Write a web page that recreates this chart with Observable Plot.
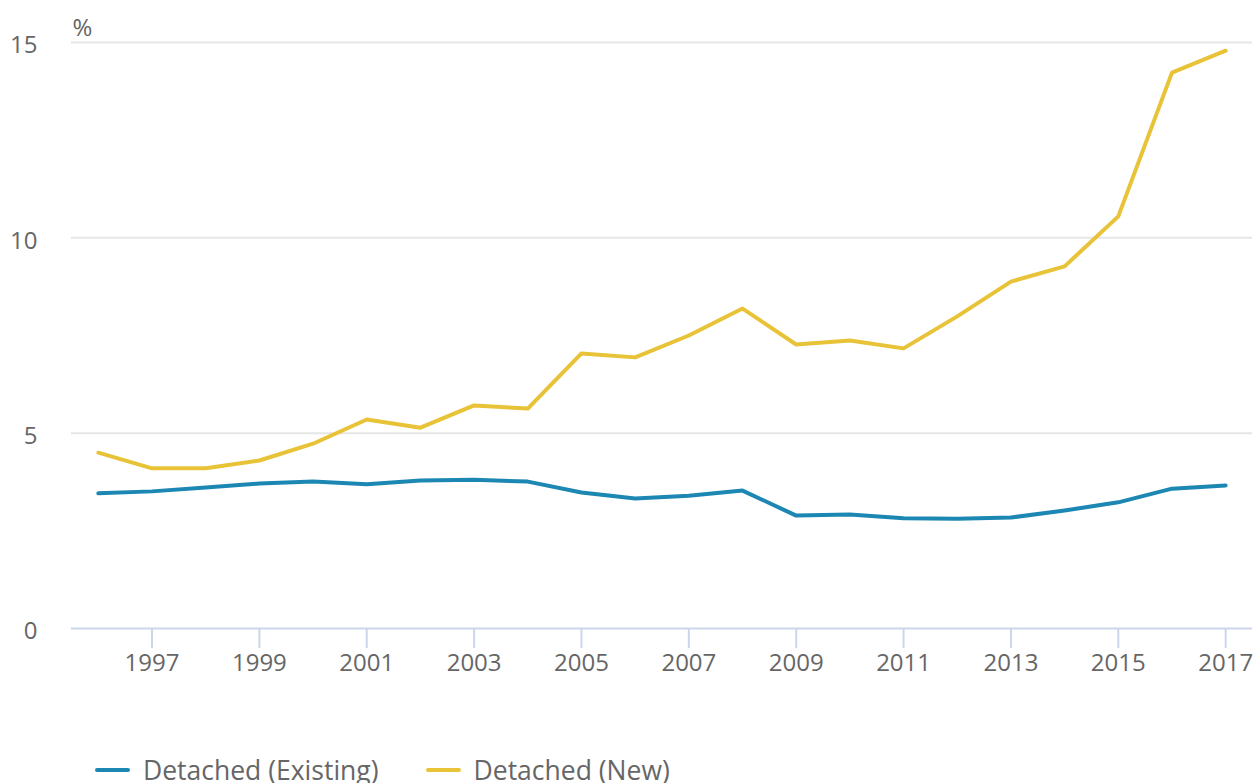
<!DOCTYPE html>
<html>
<head>
<meta charset="utf-8">
<script src="https://cdn.jsdelivr.net/npm/d3@7"></script>
<script src="https://cdn.jsdelivr.net/npm/@observablehq/plot@0.6"></script>
<style>
  html, body { margin: 0; padding: 0; background: #fff; overflow: hidden; }
  body { font-family: "Open Sans", sans-serif; width: 1257px; }
  #legend { display: flex; align-items: center; padding-left: 95px; height: 40px; margin-top: 30px; font-size: 26.5px; color: #666; white-space: nowrap; }
  .item { display: flex; align-items: center; margin-right: 47px; }
  .sw { width: 35px; height: 4px; border-radius: 2px; margin-right: 13px; }
</style>
</head>
<body>
<div id="chart"></div>
<div id="legend"></div>
<script>
const years = [1996,1997,1998,1999,2000,2001,2002,2003,2004,2005,2006,2007,2008,2009,2010,2011,2012,2013,2014,2015,2016,2017];
const existing = [3.46,3.51,3.61,3.71,3.76,3.69,3.79,3.81,3.76,3.48,3.33,3.40,3.53,2.89,2.92,2.82,2.81,2.84,3.02,3.23,3.58,3.66];
const newBuild = [4.50,4.10,4.10,4.30,4.73,5.35,5.14,5.71,5.63,7.04,6.94,7.50,8.19,7.27,7.37,7.17,7.99,8.88,9.27,10.55,14.23,14.79];
const seriesNames = ["Detached (Existing)", "Detached (New)"];
const colors = ["#1c87b3", "#e8c337"];
const yTicks = [0, 5, 10, 15];
const xTicks = [1997,1999,2001,2003,2005,2007,2009,2011,2013,2015,2017];

const rows = [];
years.forEach((y, i) => {
  rows.push({year: y, value: existing[i], series: seriesNames[0]});
  rows.push({year: y, value: newBuild[i], series: seriesNames[1]});
});

const chart = Plot.plot({
  width: 1257,
  height: 720,
  marginLeft: 71,
  marginRight: 5,
  marginTop: 42,
  marginBottom: 92,
  style: {fontFamily: "Open Sans, sans-serif", fontSize: "23px", color: "#666", background: "#fff"},
  x: {domain: [1995.5, 2017.5]},
  y: {domain: [0, 15]},
  color: {domain: seriesNames, range: colors},
  marks: [
    Plot.ruleY([5, 10, 15], {stroke: "#e6e6e6", strokeWidth: 2}),
    Plot.axisY({ticks: yTicks, tickSize: 0, tickPadding: 34, dy: 3, label: null, fill: "#666", fontSize: 24}),
    Plot.axisX({ticks: xTicks, tickSize: 20, tickPadding: 5, tickFormat: d => String(d), label: null, stroke: "#ccd6eb", strokeWidth: 2, fill: "#666", fontSize: 24}),
    Plot.ruleY([0], {stroke: "#ccd6eb", strokeWidth: 2}),
    Plot.lineY(rows, {x: "year", y: "value", stroke: "series", strokeWidth: 4, strokeLinecap: "round", strokeLinejoin: "round"}),
    Plot.text(["%"], {frameAnchor: "top-left", dx: 1, dy: -24, textAnchor: "start", fill: "#666", fontSize: 24})
  ]
});
document.getElementById("chart").appendChild(chart);

const legend = document.getElementById("legend");
seriesNames.forEach((n, i) => {
  const it = document.createElement("div");
  it.className = "item";
  it.innerHTML = `<span class="sw" style="background:${colors[i]}"></span><span>${n}</span>`;
  legend.appendChild(it);
});
</script>
</body>
</html>
